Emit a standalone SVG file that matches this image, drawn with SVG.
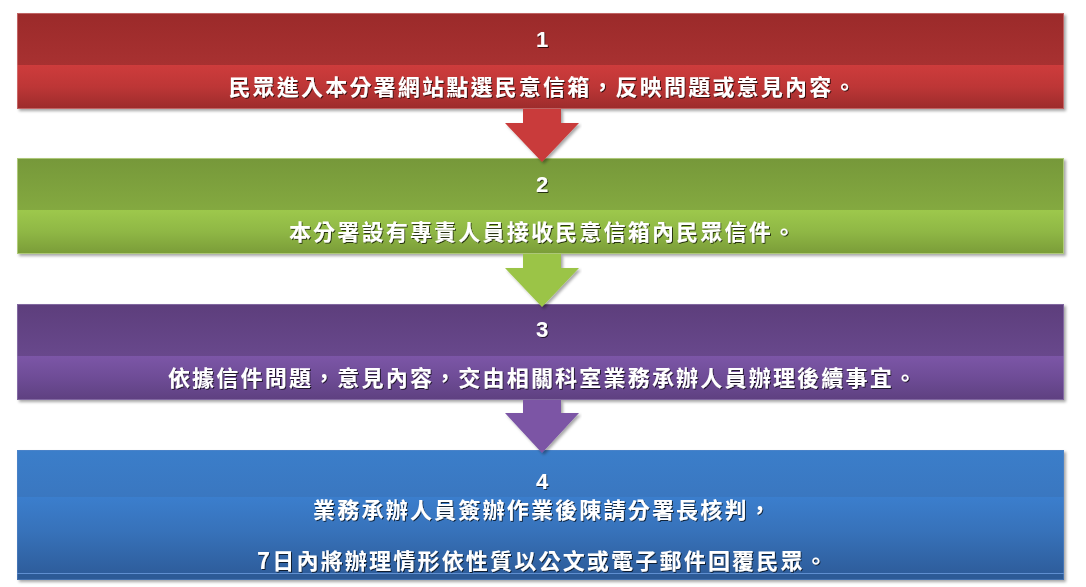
<svg xmlns="http://www.w3.org/2000/svg" width="1086" height="587" viewBox="0 0 1086 587">
<style>
.num{font-family:"Liberation Sans","Noto Sans CJK TC",sans-serif;font-weight:bold;font-size:22px;fill:#fff;text-anchor:middle;}
.txt{font-family:"Noto Sans CJK TC","Noto Sans CJK SC",sans-serif;font-weight:bold;font-size:22px;fill:#fff;text-anchor:middle;letter-spacing:2.2px;}
</style>
<defs>
<filter id="ts" x="-5%" y="-30%" width="110%" height="160%">
<feDropShadow dx="1" dy="1" stdDeviation="0.7" flood-color="#000" flood-opacity="0.7"/>
</filter>
<filter id="bs" x="-2%" y="-10%" width="105%" height="130%">
<feDropShadow dx="2" dy="2" stdDeviation="1.5" flood-color="#000" flood-opacity="0.35"/>
</filter>
<linearGradient id="rT" x1="0" y1="0" x2="0" y2="1"><stop offset="0" stop-color="#9b2a2a"/><stop offset="1" stop-color="#a83131"/></linearGradient>
<linearGradient id="rB" x1="0" y1="0" x2="0" y2="1"><stop offset="0" stop-color="#ce3c3c"/><stop offset="0.5" stop-color="#bd3636"/><stop offset="1" stop-color="#9c2b2b"/></linearGradient>
<linearGradient id="gT" x1="0" y1="0" x2="0" y2="1"><stop offset="0" stop-color="#76983a"/><stop offset="1" stop-color="#84a940"/></linearGradient>
<linearGradient id="gB" x1="0" y1="0" x2="0" y2="1"><stop offset="0" stop-color="#9dc84c"/><stop offset="0.5" stop-color="#8fb745"/><stop offset="1" stop-color="#7a9c38"/></linearGradient>
<linearGradient id="pT" x1="0" y1="0" x2="0" y2="1"><stop offset="0" stop-color="#5d3e7c"/><stop offset="1" stop-color="#68488c"/></linearGradient>
<linearGradient id="pB" x1="0" y1="0" x2="0" y2="1"><stop offset="0" stop-color="#7c56a7"/><stop offset="0.5" stop-color="#6e4c96"/><stop offset="1" stop-color="#5e4080"/></linearGradient>
<linearGradient id="bT" x1="0" y1="0" x2="0" y2="1"><stop offset="0" stop-color="#3b7eca"/><stop offset="1" stop-color="#3a77c0"/></linearGradient>
<linearGradient id="bB" x1="0" y1="0" x2="0" y2="1"><stop offset="0" stop-color="#3b7ecd"/><stop offset="0.45" stop-color="#3772ba"/><stop offset="1" stop-color="#2e5d9c"/></linearGradient>
</defs>
<rect width="1086" height="587" fill="#fff"/>

<g id="node1">
<rect x="17" y="13" width="1047" height="96" fill="#9f2d2d" filter="url(#bs)"/>
<rect x="17" y="13" width="1047" height="52" fill="url(#rT)"/>
<rect x="17" y="65" width="1047" height="44" fill="url(#rB)"/>
<rect x="17.5" y="13.5" width="1046" height="95" fill="none" stroke="#d88a8a" stroke-opacity="0.6"/>
<text class="num" x="542" y="47" filter="url(#ts)">1</text>
<text class="txt" x="543" y="95" filter="url(#ts)">民眾進入本分署網站點選民意信箱，反映問題或意見內容。</text>
</g>

<g id="node2">
<rect x="17" y="158" width="1047" height="96" fill="#7b9c38" filter="url(#bs)"/>
<rect x="17" y="158" width="1047" height="52" fill="url(#gT)"/>
<rect x="17" y="210" width="1047" height="44" fill="url(#gB)"/>
<rect x="17.5" y="158.5" width="1046" height="95" fill="none" stroke="#c4dc94" stroke-opacity="0.7"/>
<text class="num" x="542" y="192" filter="url(#ts)">2</text>
<text class="txt" x="543" y="240" filter="url(#ts)">本分署設有專責人員接收民意信箱內民眾信件。</text>
</g>

<g id="node3">
<rect x="17" y="304" width="1047" height="96" fill="#5e4080" filter="url(#bs)"/>
<rect x="17" y="304" width="1047" height="52" fill="url(#pT)"/>
<rect x="17" y="356" width="1047" height="44" fill="url(#pB)"/>
<rect x="17.5" y="304.5" width="1046" height="95" fill="none" stroke="#9a84b8" stroke-opacity="0.6"/>
<text class="num" x="542" y="337" filter="url(#ts)">3</text>
<text class="txt" x="543" y="386" filter="url(#ts)">依據信件問題，意見內容，交由相關科室業務承辦人員辦理後續事宜。</text>
</g>

<g id="node4">
<rect x="17" y="450" width="1047" height="130" fill="#2e5d9c" filter="url(#bs)"/>
<rect x="17" y="450" width="1047" height="47" fill="url(#bT)"/>
<rect x="17" y="497" width="1047" height="76" fill="url(#bB)"/>
<rect x="17" y="573" width="1047" height="7" fill="#2c5a96"/>
<line x1="17" y1="573.5" x2="1064" y2="573.5" stroke="#5f8fd0" stroke-width="1"/>
<rect x="17.5" y="450.5" width="1046" height="129" fill="none" stroke="#5a88c8" stroke-opacity="0.5"/>
<text class="num" x="542" y="489" filter="url(#ts)">4</text>
<text class="txt" x="543" y="518" filter="url(#ts)">業務承辦人員簽辦作業後陳請分署長核判，</text>
<text class="txt" x="543" y="569" filter="url(#ts)">7日內將辦理情形依性質以公文或電子郵件回覆民眾。</text>
</g>

<g id="connectors">
<polygon points="523,109 561,109 561,123 579,123 542,162 505,123 523,123" fill="#c93b3b" filter="url(#bs)"/>
<polygon points="523,254 561,254 561,268 579,268 542,307 505,268 523,268" fill="#9bc447" filter="url(#bs)"/>
<polygon points="523,400 561,400 561,413 579,413 542,453 505,413 523,413" fill="#7b55a5" filter="url(#bs)"/>
</g>
</svg>
